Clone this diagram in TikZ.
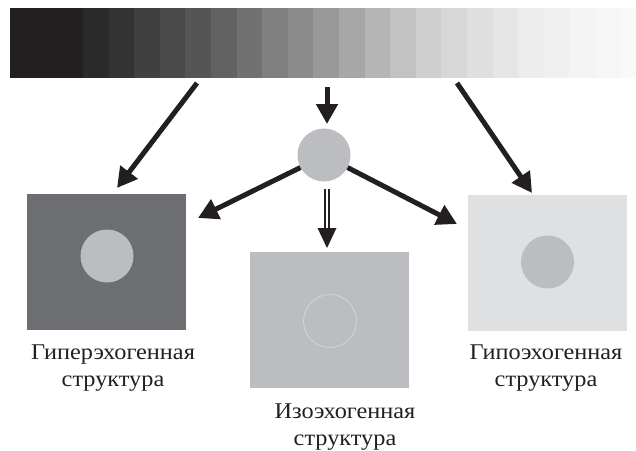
\documentclass[tikz,border=0pt]{standalone}
\usepackage{fontspec}
\setmainfont{Liberation Serif}
\newfontfamily\lblfont{Liberation Serif}[FakeStretch=1.08]
\usetikzlibrary{arrows.meta,calc}
\definecolor{midg}{HTML}{BCBDC0}
\definecolor{darkg}{HTML}{6D6E71}
\definecolor{lightg}{HTML}{DFE0E1}
\definecolor{rimg}{HTML}{D4D5D7}
\definecolor{ink}{HTML}{231F20}
\tikzset{
  arr/.style={draw=ink, line width=5pt, -{Triangle[length=20pt,width=21pt]}},
  dshaft/.style={draw=ink, double=white, double distance=1.6pt, line width=2pt},
  square/.style={rectangle, minimum width=159pt, minimum height=136pt, inner sep=0pt},
  disc/.style={circle, minimum size=53pt, inner sep=0pt},
  lbl/.style={align=center, font=\lblfont\fontsize{22.5pt}{26.5pt}\selectfont, inner sep=0pt, text=ink}
}
\begin{document}
\begin{tikzpicture}[x=1pt,y=-1pt]
\useasboundingbox (0,0) rectangle (636,450);
% gradient bar
\fill[ink] (10,8) rectangle (83,78);
\foreach \g [count=\i from 0] in {0.165,0.20,0.25,0.29,0.335,0.385,0.445,0.50,0.545,0.60,0.655,0.71,0.76,0.81,0.845,0.875,0.90,0.925,0.94,0.955,0.965,0.975}{
  \definecolor{gc}{gray}{\g}
  \pgfmathsetmacro\xa{83+25.6*\i}
  \pgfmathsetmacro\xb{min(636,83+25.6*(\i+1))}
  \fill[gc] (\xa,8) rectangle (\xb,78);
}
\coordinate (bl) at (197,83);
\coordinate (bm) at (327,87);
\coordinate (br) at (457,83);
% central disc
\node[disc, fill=midg] (c) at (324,155) {};
% squares
\node[square, fill=darkg] (sl) at (106.5,262) {};
\node[disc, fill=midg] (cl) at (107,256) {};
\node[square, fill=midg] (sm) at (329.5,320) {};
\node[disc, draw=rimg, line width=0.8pt, fill=midg] (cm) at (330,321) {};
\node[square, fill=lightg] (sr) at (547.5,262.5) {};
\node[disc, fill=midg] (cr) at (547.5,262) {};
% arrows
\coordinate (tl) at (117,188);
\coordinate (tr) at (532,193);
\coordinate (tc) at (327,124);
\coordinate (tdl) at (198,218);
\coordinate (tdr) at (457,224);
\coordinate (ds) at (327,189);
\coordinate (dt) at (327,248);
\coordinate (db) at (327,229);
\draw[arr] (bl) -- (tl);
\draw[arr] (br) -- (tr);
\draw[arr] (bm) -- (tc);
\draw[arr] (c.-152) -- (tdl);
\draw[arr] (c.-28) -- (tdr);
\draw[dshaft] (ds) -- (db);
\fill[ink] ($(db)+(-9.5,-1)$) -- ($(db)+(9.5,-1)$) -- (dt) -- cycle;
% labels
\node[lbl] (ll) at (113,368) {Гиперэхогенная\\структура};
\node[lbl] (lm) at (345,427) {Изоэхогенная\\структура};
\node[lbl] (lr) at (546,368) {Гипоэхогенная\\структура};
\end{tikzpicture}
\end{document}
